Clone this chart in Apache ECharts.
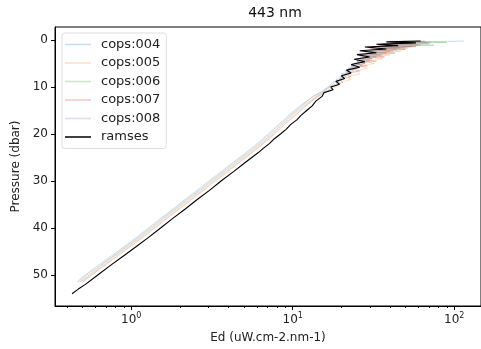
<!DOCTYPE html>
<html lang="en">
<head>
    <meta charset="UTF-8">
    <title>443 nm</title>
    <style>
        html, body { margin: 0; padding: 0; background: #fff; }
        #chart { width: 481px; height: 349px; }
    </style>
</head>
<body>
    <div id="chart"></div>
    <script src="https://cdn.jsdelivr.net/npm/echarts@6/dist/echarts.min.js"></script>
    <script>
        // pressure levels (dbar)
        var copsPressure = [0.2, 0.5, 0.8, 1.1, 1.4, 1.7, 2.0, 2.4, 2.8, 3.2, 3.6, 4.0, 4.5, 5.0, 5.5, 6.0, 6.6, 7.2, 7.8, 8.4, 9.0, 10, 11, 12,
            14, 16, 18, 20, 22, 24, 26, 28, 30, 32, 34, 36, 38, 40, 42, 44, 46, 48, 50, 51.5];
        var ramsesPressure = [0.2, 0.4, 0.6, 0.9, 1.2, 1.5, 1.9, 2.3, 2.7, 3.1, 3.6, 4.1, 4.6, 5.2, 5.8, 6.4, 7.0, 7.6, 8.2, 8.8, 9.4, 10.0, 10.6, 11.2, 12,
            13, 14, 15, 16, 17, 18, 19, 20, 21, 22, 23, 24, 26, 28, 30, 32, 34, 36, 38, 40, 42, 44, 46, 48, 50, 52, 53, 54];

        // Ed (uW.cm-2.nm-1)
        var cops004 = [115, 52, 70, 40, 55, 34, 44, 30, 38, 28, 33, 26, 30, 24, 27, 22, 24, 20, 21.5, 18.5, 19.5, 16.8, 15.2, 13.4,
            11.1, 9.5, 8.15, 7.05, 6.05, 5.12, 4.28, 3.61, 3.02, 2.56, 2.14, 1.81, 1.51, 1.28, 1.08, 0.90, 0.75, 0.62, 0.52, 0.46];
        var cops005 = [58, 72, 45, 60, 38, 52, 35, 47, 32, 40, 30, 36, 28, 32, 26, 29, 24.5, 26, 22, 23, 20, 18.5, 16.4, 14.5,
            11.9, 10.2, 8.7, 7.55, 6.5, 5.5, 4.6, 3.87, 3.24, 2.75, 2.3, 1.94, 1.62, 1.37, 1.15, 0.96, 0.80, 0.67, 0.56, 0.49];
        var cops006 = [48, 90, 42, 75, 36, 50, 31, 42, 29, 36, 27, 31, 25, 28, 23, 25.5, 21.5, 23, 19.8, 20.5, 18.2, 17, 15.5, 14,
            11.6, 9.9, 8.55, 7.4, 6.35, 5.37, 4.49, 3.78, 3.17, 2.68, 2.24, 1.89, 1.58, 1.34, 1.13, 0.94, 0.78, 0.65, 0.55, 0.48];
        var cops007 = [66, 40, 55, 34, 58, 30, 50, 29, 43, 27, 37, 25.5, 33, 24, 29, 22.5, 26, 21, 23, 19.5, 20.5, 17.8, 16, 14.2,
            12.1, 10.4, 8.9, 7.7, 6.6, 5.6, 4.7, 3.96, 3.31, 2.8, 2.35, 1.98, 1.66, 1.40, 1.18, 0.98, 0.82, 0.68, 0.57, 0.50];
        var cops008 = [40, 68, 36, 62, 33, 46, 30, 40, 28, 35, 26, 31, 25, 28, 23, 25, 21, 22.5, 19.5, 20, 17.8, 16.5, 15, 13.3,
            11.35, 9.7, 8.35, 7.2, 6.2, 5.25, 4.39, 3.7, 3.1, 2.62, 2.19, 1.85, 1.55, 1.31, 1.10, 0.92, 0.77, 0.64, 0.53, 0.47];
        var ramses = [62, 38, 58, 33, 45, 28, 38, 26, 33, 25, 30, 24, 28, 23, 26, 21.5, 23, 20, 21, 18.5, 19.5, 17.2, 17.8, 15.6, 15.2,
            13.9, 13.2, 12.2, 11.3, 10.6, 9.7, 9.1, 8.4, 7.7, 7.2, 6.6, 6.1, 5.1, 4.3, 3.6, 3.05, 2.55, 2.15, 1.80, 1.52, 1.28, 1.07, 0.89, 0.74, 0.62, 0.52, 0.47, 0.43];

        var xMajor = [1, 10, 100];
        var xMinor = [0.4, 0.5, 0.6, 0.7, 0.8, 0.9, 2, 3, 4, 5, 6, 7, 8, 9, 20, 30, 40, 50, 60, 70, 80, 90];
        var yTicks = [0, 10, 20, 30, 40, 50];

        var copsNames = ['cops:004', 'cops:005', 'cops:006', 'cops:007', 'cops:008'];
        var copsData = [cops004, cops005, cops006, cops007, cops008];
        var copsColors = ['#1f77b4', '#ff7f0e', '#2ca02c', '#d62728', '#9467bd'];

        function pairs(ed, p) {
            var out = [];
            for (var i = 0; i < ed.length; i++) out.push([ed[i], p[i]]);
            return out;
        }

        var xMin = 0.337, xMax = 146.6;
        var chart = echarts.init(document.getElementById('chart'));

        var series = [];
        for (var i = 0; i < copsNames.length; i++) {
            series.push({
                name: copsNames[i],
                type: 'line',
                symbol: 'none',
                data: pairs(copsData[i], copsPressure),
                lineStyle: { color: copsColors[i], width: 1, opacity: 0.25 },
                itemStyle: { color: copsColors[i], opacity: 0.25 }
            });
        }
        series.push({
            name: 'ramses',
            type: 'line',
            symbol: 'none',
            data: pairs(ramses, ramsesPressure),
            lineStyle: { color: '#000', width: 1.1 },
            itemStyle: { color: '#000' }
        });

        var option = {
            animation: false,
            title: {
                text: '443 nm',
                left: 270,
                textAlign: 'center',
                top: 1,
                textStyle: { fontFamily: 'DejaVu Sans', fontSize: 14, fontWeight: 'normal', color: '#111' }
            },
            grid: {
                left: 55, top: 27, width: 430, height: 279,
                show: true, borderColor: '#000', borderWidth: 1
            },
            legend: {
                orient: 'vertical',
                left: 62, top: 33,
                padding: [5, 6, 5, 3],
                icon: 'rect',
                itemWidth: 26, itemHeight: 1.5, itemGap: 5.5,
                backgroundColor: '#fff',
                borderColor: '#ddd', borderWidth: 1, borderRadius: 3,
                textStyle: { fontFamily: 'DejaVu Sans', fontSize: 13, color: '#222', padding: [0, 0, 0, 5] },
                data: copsNames.concat(['ramses'])
            },
            xAxis: [{
                type: 'log', logBase: 10, min: xMin, max: xMax, position: 'bottom',
                name: 'Ed (uW.cm-2.nm-1)', nameLocation: 'middle', nameGap: 26,
                nameTextStyle: { fontFamily: 'DejaVu Sans', fontSize: 12, color: '#222' },
                axisLine: { onZero: false, lineStyle: { color: '#000' } },
                axisTick: { inside: false, length: 4, lineStyle: { color: '#000' }, customValues: xMajor },
                axisLabel: {
                    customValues: xMajor, margin: 6, color: '#222',
                    fontFamily: 'DejaVu Sans', fontSize: 12,
                    formatter: function (v) { return '10{s|' + Math.round(Math.log10(v)) + '}'; },
                    rich: { s: { fontSize: 8, fontFamily: 'DejaVu Sans', color: '#222', padding: [0, 0, 7, 0] } }
                },
                splitLine: { show: false }
            }, {
                type: 'log', logBase: 10, min: xMin, max: xMax, position: 'bottom',
                axisLine: { show: false, onZero: false },
                axisTick: { inside: false, length: 2, lineStyle: { color: '#000' }, customValues: xMinor },
                axisLabel: { show: false },
                splitLine: { show: false }
            }],
            yAxis: {
                type: 'value', inverse: true, min: -2.77, max: 56.6,
                name: 'Pressure (dbar)', nameLocation: 'middle', nameGap: 32,
                nameTextStyle: { fontFamily: 'DejaVu Sans', fontSize: 12, color: '#222' },
                axisLine: { show: true, onZero: false, lineStyle: { color: '#000' } },
                axisTick: { show: true, inside: false, length: 4, lineStyle: { color: '#000' }, customValues: yTicks },
                axisLabel: { customValues: yTicks, margin: 7, color: '#222', fontFamily: 'DejaVu Sans', fontSize: 12 },
                splitLine: { show: false }
            },
            series: series
        };
        chart.setOption(option);
    </script>
</body>
</html>
